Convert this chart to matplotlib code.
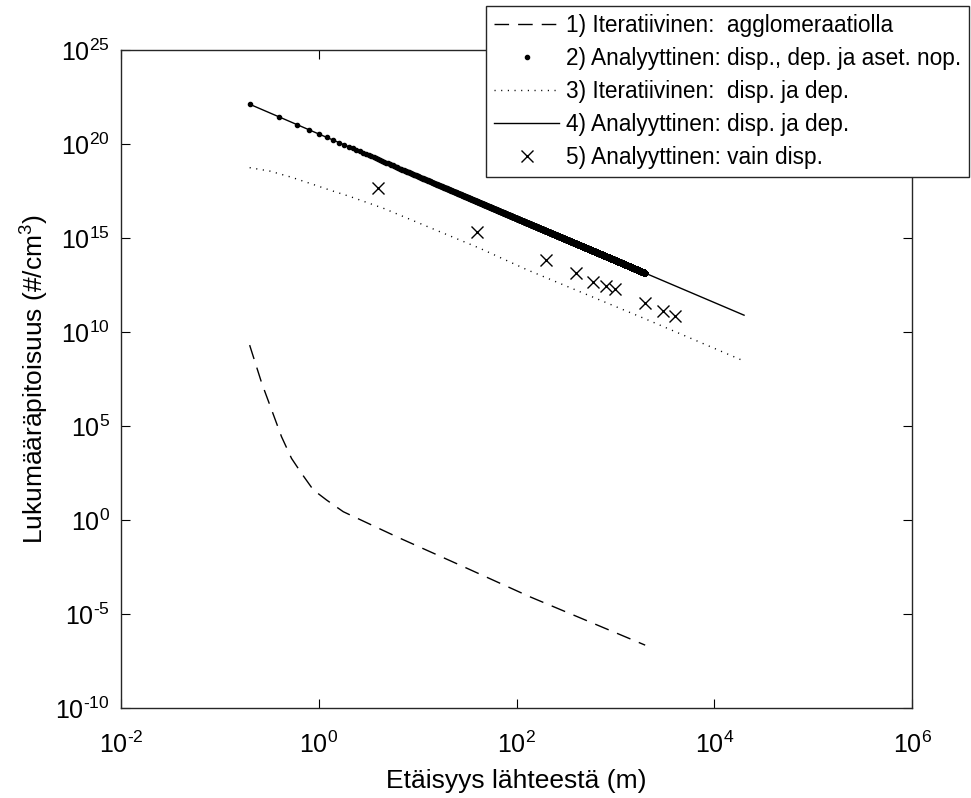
import numpy as np
import matplotlib
matplotlib.use('Agg')
import matplotlib.pyplot as plt
from matplotlib.ticker import FuncFormatter

plt.rcParams['font.family'] = ['Liberation Sans', 'DejaVu Sans']
plt.rcParams['mathtext.fontset'] = 'custom'
plt.rcParams['mathtext.rm'] = 'Liberation Sans'
plt.rcParams['mathtext.it'] = 'Liberation Sans:italic'
plt.rcParams['mathtext.default'] = 'regular'
plt.rcParams['axes.unicode_minus'] = False

# 1) iterative solution with agglomeration
x_agg = [0.2, 0.265, 0.334, 0.42, 0.53, 0.67, 0.88, 1.2, 1.77, 6.1, 29, 136, 2000]
y_agg = [2.0e9, 1.9e7, 7.1e5, 2.7e4, 1.9e3, 300, 40, 11.5, 2.75, 0.13, 3.3e-3, 8.3e-5, 2.2e-7]

# 3) iterative solution, dispersion and deposition
x_iter = [0.2, 0.32, 0.51, 0.81, 1.3, 2.07, 4.5, 42.7, 126, 2000, 19500]
y_iter = [5.5e18, 3.6e18, 1.8e18, 8.1e17, 3.5e17, 1.6e17, 3.8e16, 2.8e14, 2.1e13, 5.0e10, 3.0e8]

# 4) analytic solution, dispersion and deposition
x_anal = [0.2, 1, 10, 100, 1000, 2000, 20000]
y_anal = [1.3e22, 3.4e20, 1.95e18, 1.1e16, 6.5e13, 1.35e13, 7.8e10]

# 2) analytic solution with settling velocity, evaluated every 0.2 m up to 2000 m
step_set = 0.2
x_set_max = 2000

# 5) analytic solution, dispersion only
x_disp = [4, 40, 200, 400, 600, 800, 1000, 2000, 3000, 4000]
y_disp = [4.4e17, 2.2e15, 6.8e13, 1.3e13, 4.8e12, 2.8e12, 1.9e12, 3.4e11, 1.3e11, 7.4e10]

x_ticks = [1e-2, 1e0, 1e2, 1e4, 1e6]
y_ticks = [1e-10, 1e-5, 1e0, 1e5, 1e10, 1e15, 1e20, 1e25]

x_set = np.arange(step_set, x_set_max + step_set / 2, step_set)
y_set = 10 ** np.interp(np.log10(x_set), np.log10(x_anal), np.log10(y_anal))


def pow10_label(v, pos):
    # short hyphen in the exponent instead of a math minus
    e = int(round(np.log10(v)))
    s = str(abs(e))
    if e < 0:
        s = '\u2010' + s
    return '$10^{' + s + '}$'


fig = plt.figure(figsize=(9.71, 7.98), dpi=100)
ax = fig.add_axes([0.1246, 0.1128, 0.8147, 0.8246])

ax.loglog(x_agg, y_agg, color='k', lw=1.0, dashes=(10.5, 6.5),
          label='1) Iteratiivinen:  agglomeraatiolla')
ax.loglog(x_set, y_set, '.', color='k', markersize=6,
          label='2) Analyyttinen: disp., dep. ja aset. nop.')
ax.loglog(x_iter, y_iter, color='k', lw=1.0, dashes=(0.8, 4),
          label='3) Iteratiivinen:  disp. ja dep.')
ax.loglog(x_anal, y_anal, color='k', lw=1.0,
          label='4) Analyyttinen: disp. ja dep.')
ax.loglog(x_disp, y_disp, 'x', color='k', markersize=9, mew=1.0,
          label='5) Analyyttinen: vain disp.')

ax.set_xlim(1e-2, 1e6)
ax.set_ylim(1e-10, 1e25)
ax.set_xticks(x_ticks)
ax.set_yticks(y_ticks)
ax.minorticks_off()
ax.xaxis.set_major_formatter(FuncFormatter(pow10_label))
ax.yaxis.set_major_formatter(FuncFormatter(pow10_label))
ax.tick_params(direction='in', length=6.5, width=0.8, labelsize=18,
               top=True, right=True)
ax.tick_params(axis='x', pad=17)
ax.tick_params(axis='y', pad=8)
for s in ax.spines.values():
    s.set_linewidth(1.0)
    s.set_color('#262626')

ax.set_xlabel('Etäisyys lähteestä (m)', fontsize=19, labelpad=8)
ax.set_ylabel('Lukumääräpitoisuus (#/cm$^3$)', fontsize=19, labelpad=3)

leg = fig.legend(loc='upper right', bbox_to_anchor=(0.998, 0.9925),
                 borderaxespad=0, fontsize=16.3, numpoints=1,
                 handlelength=2.87, handletextpad=0.3, labelspacing=0.44,
                 borderpad=0.36, fancybox=False, framealpha=1,
                 edgecolor='#262626')
leg.get_frame().set_linewidth(1.0)

fig.savefig('out.png', dpi=100)
